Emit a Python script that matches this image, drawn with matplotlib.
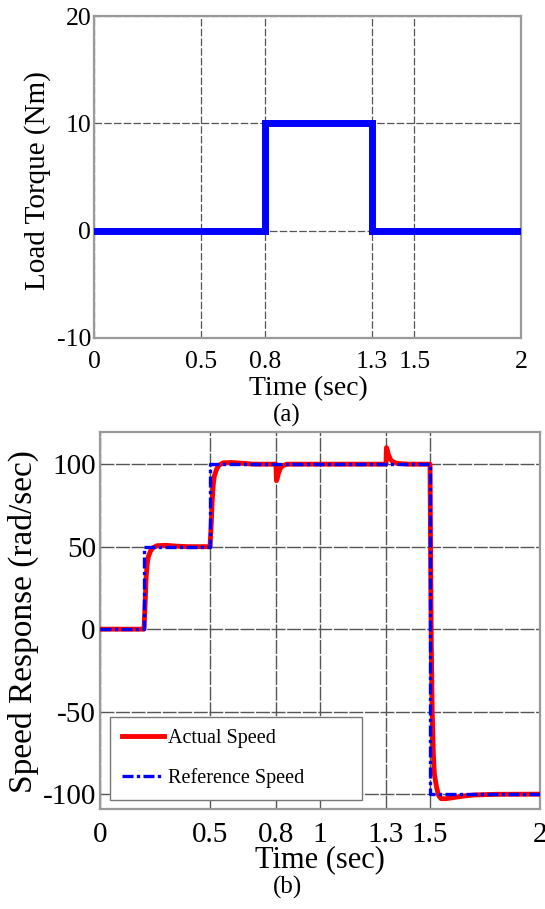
import matplotlib
matplotlib.use("Agg")
import matplotlib.pyplot as plt

plt.rcParams['font.family'] = ['Liberation Serif', 'DejaVu Serif']
plt.rcParams['axes.unicode_minus'] = False

# ---- Data: (a) load torque ----
torque_t = [0, 0.8, 1.3, 2.0]
torque_v = [0, 10, 0, 0]
top_xticks = [0, 0.5, 0.8, 1.3, 1.5, 2]
top_xticklabels = ['0', '0.5', '0.8', '1.3', '1.5', '2']
top_yticks = [-10, 0, 10, 20]
top_yticklabels = ['-10', '0', '10', '20']

# ---- Data: (b) speed response ----
ref_t = [0, 0.2, 0.5, 1.5, 2.0]
ref_v = [0, 50, 100, -100, -100]
act_t = [0, 0.2, 0.205, 0.21, 0.215, 0.22, 0.23, 0.24, 0.26, 0.3, 0.35, 0.4,
         0.5, 0.505, 0.51, 0.515, 0.52, 0.53, 0.54, 0.56, 0.6, 0.65, 0.7,
         0.8, 0.801, 0.802, 0.805, 0.81, 0.82, 0.83, 0.85, 1.0,
         1.3, 1.301, 1.302, 1.305, 1.31, 1.32, 1.33, 1.35, 1.4,
         1.5, 1.503, 1.506, 1.51, 1.515, 1.52, 1.53, 1.54, 1.55, 1.57, 1.6,
         1.65, 1.7, 1.8, 2.0]
act_v = [0, 0, 15, 32, 40, 44, 47.5, 49.3, 50.6, 50.8, 50.3, 50,
         50, 62, 78, 88, 93, 97, 99.3, 100.8, 101, 100.5, 100,
         100, 94, 90, 91, 94, 97.5, 99, 100, 100,
         100, 106, 110, 109, 106, 103, 101.5, 100.5, 100,
         100, 40, -10, -50, -75, -88, -96, -101, -102.7, -102.8, -102.2,
         -101.2, -100.5, -100.1, -100]
bot_xticks = [0, 0.5, 0.8, 1, 1.3, 1.5, 2]
bot_xticklabels = ['0', '0.5', '0.8', '1', '1.3', '1.5', '2']
bot_yticks = [-100, -50, 0, 50, 100]
bot_yticklabels = ['-100', '-50', '0', '50', '100']
legend_labels = ['Actual Speed', 'Reference Speed']

W, H = 545, 909
fig = plt.figure(figsize=(W / 100, H / 100), dpi=100)


def px_axes(l, t, r, b):
    return fig.add_axes([l / W, 1 - b / H, (r - l) / W, (b - t) / H])


spine_col = '#9a9a9a'
grid_col = '#555555'

# ---------------- (a) ----------------
ax1 = px_axes(94, 16, 521, 338)
ax1.plot(torque_t, torque_v, drawstyle='steps-post', color='#0000ff', lw=5,
         solid_joinstyle='miter', zorder=3)
ax1.set_xlim(0, 2)
ax1.set_ylim(-10, 20)
ax1.set_xticks(top_xticks)
ax1.set_xticklabels(top_xticklabels)
ax1.set_yticks(top_yticks)
ax1.set_yticklabels(top_yticklabels)
ax1.tick_params(length=0, labelsize=18.5, colors='black')
ax1.tick_params(axis='x', pad=9)
ax1.tick_params(axis='y', pad=2)
ax1.grid(True, color=grid_col, lw=0.9, linestyle=(0, (6, 1.8)))
for s in ax1.spines.values():
    s.set_color(spine_col)
    s.set_linewidth(1.6)
ax1.set_xlabel('Time (sec)', fontsize=20)
ax1.xaxis.set_label_coords(0.503, -0.158)
ax1.xaxis.label.set_va('center')
ax1.set_ylabel('Load Torque (Nm)', fontsize=21)
ax1.yaxis.set_label_coords(-0.133, 0.49)
ax1.yaxis.label.set_va('center')
fig.text(287 / W, 1 - 415 / H, '(a)', fontsize=18, ha='center', va='center')

# ---------------- (b) ----------------
ax2 = px_axes(100, 432, 540, 809)
l1, = ax2.plot(act_t, act_v, color='#ff0000', lw=3.5, zorder=3,
               solid_joinstyle='round')
l2, = ax2.plot(ref_t, ref_v, drawstyle='steps-post', color='#0000ff', lw=2.4,
               linestyle=(0, (3.3, 1, 1, 1)), zorder=4)
ax2.set_xlim(0, 2)
ax2.set_ylim(-109, 119.5)
ax2.set_xticks(bot_xticks)
ax2.set_xticklabels(bot_xticklabels)
ax2.set_yticks(bot_yticks)
ax2.set_yticklabels(bot_yticklabels)
ax2.tick_params(length=0, labelsize=21, colors='black')
ax2.tick_params(axis='x', pad=9)
ax2.tick_params(axis='y', pad=3)
ax2.grid(True, color=grid_col, lw=1.0, linestyle=(0, (10, 1.2)))
for s in ax2.spines.values():
    s.set_color(spine_col)
    s.set_linewidth(1.6)
ax2.set_xlabel('Time (sec)', fontsize=22)
ax2.xaxis.set_label_coords(0.5, -0.135)
ax2.xaxis.label.set_va('center')
ax2.set_ylabel('Speed Response (rad/sec)', fontsize=24)
ax2.yaxis.set_label_coords(-0.174, 0.496)
ax2.yaxis.label.set_va('center')

leg = ax2.legend([l1, l2], legend_labels, loc='lower left',
                 bbox_to_anchor=(0.0227, 0.0239, 0.573, 0.2), mode='expand',
                 borderaxespad=0, fontsize=14.5, handlelength=2.1,
                 handletextpad=0.2, labelspacing=1.0, borderpad=0.6,
                 fancybox=False, framealpha=1, edgecolor='#777777')
leg.get_frame().set_linewidth(1.0)
fig.text(287 / W, 1 - 887 / H, '(b)', fontsize=18, ha='center', va='center')

fig.savefig('out.png', dpi=100)
